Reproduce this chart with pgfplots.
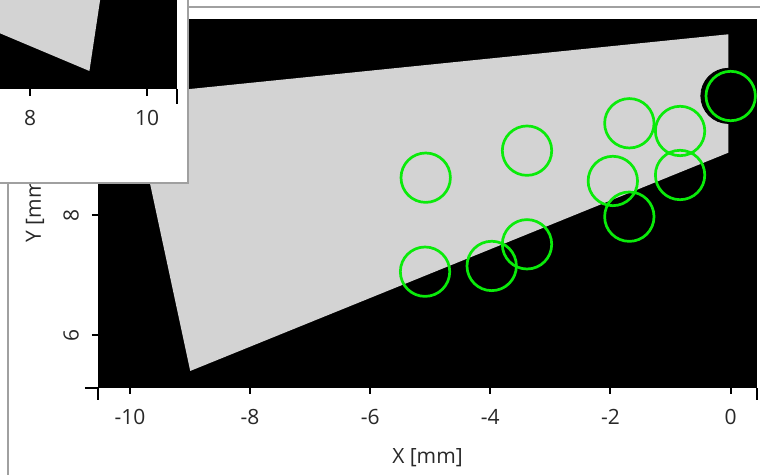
\documentclass[border=0pt]{standalone}
\usepackage{pgfplots}
\pgfplotsset{compat=1.18}
\usepackage{fontspec}
\setmainfont{Open Sans}
\definecolor{polygray}{RGB}{211,211,211}
\definecolor{ringgreen}{RGB}{10,235,10}
\definecolor{framegray}{RGB}{160,160,160}
\definecolor{txt}{RGB}{40,40,40}
\begin{document}
\begin{tikzpicture}
\begin{scope}
\clip (0pt,0pt) rectangle (380pt,237.5pt);
% main window frame lines
\draw[framegray, line width=1pt] (4pt,-3pt) -- (4pt,150pt);
\draw[framegray, line width=1pt] (90pt,234pt) -- (383pt,234pt);
\begin{axis}[
  at={(49pt,43.5pt)}, anchor=south west,
  scale only axis, width=329.5pt, height=184.5pt,
  xmin=-10.533, xmax=0.441, ymin=5.115, ymax=11.286,
  axis background/.style={fill=black},
  axis line style={draw=none},
  tick pos=left, tick align=outside,
  major tick length=3pt,
  tick style={black, line width=1pt},
  xtick={-10,-8,-6,-4,-2,0},
  ytick={6,8},
  extra x ticks={-10.533,0.441}, extra x tick labels={},
  extra x tick style={major tick length=6pt},
  extra y ticks={5.115}, extra y tick labels={},
  extra y tick style={major tick length=6.5pt},
  /pgf/number format/assume math mode=true,
  every tick label/.append style={font=\fontsize{10.5}{12}\selectfont, text=txt},
  xticklabel shift=4pt,
  yticklabel style={rotate=90, anchor=south},
  yticklabel shift=3pt,
  xlabel={X [mm]}, ylabel={Y [mm]},
  label style={font=\fontsize{10.5}{12}\selectfont, text=txt},
  xlabel style={at={(axis description cs:0.5,-0.189)}, anchor=center},
  ylabel style={at={(axis description cs:-0.0956,0.49)}, anchor=center},
  clip=true,
]
\addplot[fill=polygray, draw=none] coordinates {
  (-9.983,10.015) (-0.037,11.030) (-0.037,9.050) (-8.997,5.400)
};
\addplot[only marks, mark=*, mark size=13.8pt, black, mark options={draw=black, fill=black}]
  coordinates {(-0.035,10.0)};
\addplot[only marks, mark=o, mark size=12.35pt, mark options={draw=ringgreen, line width=1.35pt}]
  coordinates {
  (-5.076,8.632) (-3.389,9.084) (-5.087,7.060) (-3.977,7.156) (-3.389,7.518)
  (-1.685,9.542) (-0.840,9.413) (0.003,9.998) (-1.960,8.577) (-0.840,8.677)
  (-1.685,7.980)
  };
\end{axis}
% inset window
\draw[fill=white, draw=framegray, line width=1pt] (-5pt,146pt) rectangle (94pt,245pt);
\begin{axis}[
  at={(-14.25pt,193pt)}, anchor=south west,
  scale only axis, width=102.75pt, height=54.5pt,
  xmin=7.0, xmax=10.51, ymin=0, ymax=1.863,
  axis background/.style={fill=black},
  axis line style={draw=none},
  tick pos=left, tick align=outside,
  major tick length=3.5pt,
  tick style={black, line width=1pt},
  xtick={8,10}, ytick=\empty,
  extra x ticks={10.51}, extra x tick labels={},
  extra x tick style={major tick length=7.5pt},
  /pgf/number format/assume math mode=true,
  every tick label/.append style={font=\fontsize{10.5}{12}\selectfont, text=txt},
  xticklabel shift=3.5pt,
  clip=true,
]
\addplot[fill=polygray, draw=none] coordinates {
  (7.0,1.157) (9.014,0.308) (9.248,1.863) (7.0,1.863)
};
\end{axis}
\end{scope}
\pgfresetboundingbox
\useasboundingbox (0pt,0pt) rectangle (380pt,237.5pt);
\end{tikzpicture}
\end{document}
